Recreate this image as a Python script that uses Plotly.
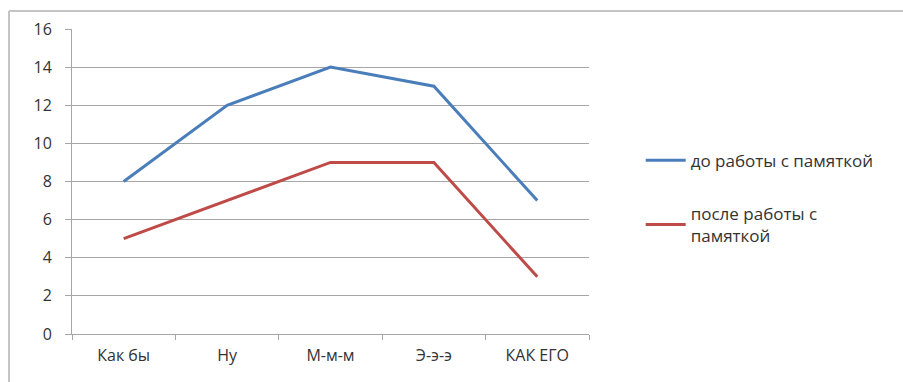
import plotly.graph_objects as go

# Categories and series
categories = ["Как бы", "Ну", "М-м-м", "Э-э-э", "КАК ЕГО"]
before_values = [8, 12, 14, 13, 7]
after_values = [5, 7, 9, 9, 3]
y_ticks = [0, 2, 4, 6, 8, 10, 12, 14, 16]

FONT = "Open Sans"
BLUE = "#4a7ebb"
RED = "#be4b48"
GRID = "#a6a6a6"
TEXT = "#333333"

fig = go.Figure()
fig.add_trace(go.Scatter(
    x=categories, y=before_values, mode="lines",
    name="до работы с памяткой", legendgroup="before",
    line=dict(color=BLUE, width=3),
))
fig.add_trace(go.Scatter(
    x=categories, y=after_values, mode="lines",
    name="после работы с<br>памяткой", legendgroup="after",
    line=dict(color=RED, width=3),
))

fig.update_layout(
    width=903, height=382,
    margin=dict(l=72, r=314, t=29, b=48),
    paper_bgcolor="white", plot_bgcolor="white",
    font=dict(family=FONT, size=16, color=TEXT),
    showlegend=True,
    legend=dict(
        x=1.1, xanchor="left", y=0.445, yanchor="middle",
        font=dict(family=FONT, size=17, color=TEXT),
        tracegroupgap=28, itemwidth=40,
        bgcolor="rgba(0,0,0,0)",
    ),
    xaxis=dict(
        type="category", range=[-0.5, 4.5],
        showgrid=False, showline=True, linecolor=GRID, linewidth=1,
        ticks="outside", tickson="boundaries", ticklen=5, tickcolor=GRID,
        ticklabelstandoff=7,
        zeroline=False,
    ),
    yaxis=dict(
        range=[0, 16], tickvals=y_ticks,
        showgrid=True, gridcolor=GRID, gridwidth=1,
        showline=True, linecolor=GRID, linewidth=1,
        ticks="outside", ticklen=6, tickcolor=GRID,
        ticklabelstandoff=10,
        zeroline=False,
    ),
    shapes=[
        # Chart frame: top and left edges
        dict(type="line", xref="paper", yref="paper",
             x0=-63 / 517, x1=1.7, y0=(334 - 11) / 305, y1=(334 - 11) / 305,
             line=dict(color="#c4c4c4", width=2)),
        dict(type="line", xref="paper", yref="paper",
             x0=-63 / 517, x1=-63 / 517, y0=(334 - 11) / 305, y1=-0.2,
             line=dict(color="#c4c4c4", width=2)),
    ],
)

fig.write_html("out.html")
